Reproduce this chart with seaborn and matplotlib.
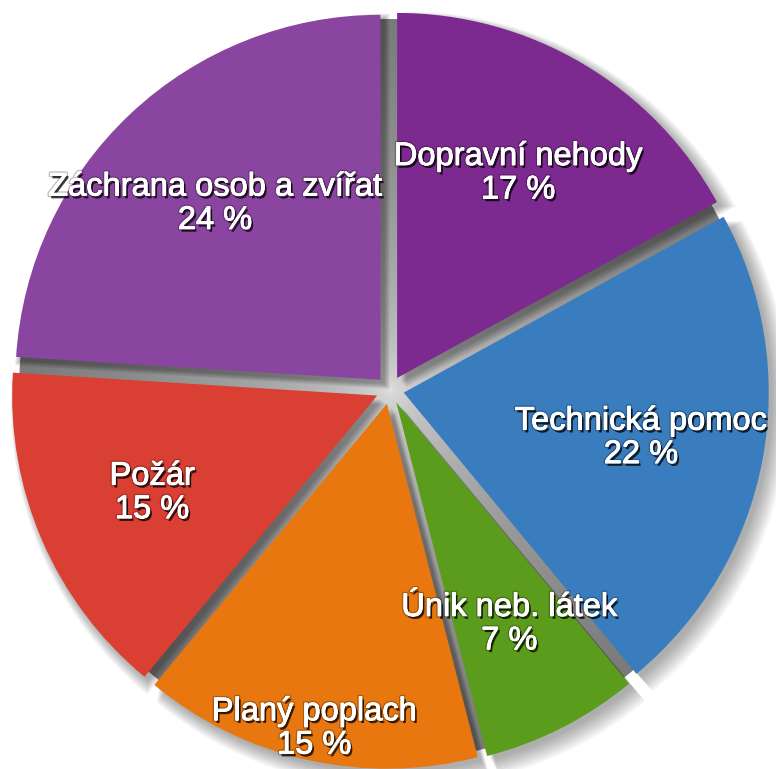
import numpy as np
import matplotlib
matplotlib.use("Agg")
import matplotlib.pyplot as plt
import matplotlib.patheffects as pe
from matplotlib.patches import Wedge, Circle
import seaborn as sns

# data
categories = ["Dopravní nehody", "Technická pomoc", "Únik neb. látek",
              "Planý poplach", "Požár", "Záchrana osob a zvířat"]
shares = [17, 22, 7, 15, 15, 24]
slice_colors = ["#7c2a8f", "#3a7dbf", "#5b9c1c", "#e8770f", "#da3f33", "#8a45a0"]
label_dist = [0.69, 0.70, 0.72, 0.95, 0.71, 0.70]

sns.set_theme(style="white")
plt.rcParams["font.family"] = ["Liberation Sans", "DejaVu Sans"]

W, H = 776, 769
fig = plt.figure(figsize=(W / 100, H / 100), dpi=100)
ax = fig.add_axes([0, 0, 1, 1])

cx, cy = 390, H - 390
R = 365
expl = 14  # pie explode is in data units here

wedges, _ = ax.pie(shares, colors=slice_colors, startangle=90, counterclock=False,
                   radius=R, center=(cx, cy), explode=[expl] * len(shares),
                   frame=True, wedgeprops=dict(linewidth=0, zorder=3))
ax.set_xlim(0, W)
ax.set_ylim(0, H)
ax.set_aspect("equal")
ax.axis("off")

# grey backdrop with light centre
yy, xx = np.mgrid[0:H, 0:W]
dist = np.hypot(xx - cx, (H - yy) - cy) / R
grey = np.clip(0.9 - 0.42 * np.sqrt(dist), 0.48, 0.92)
img = ax.imshow(np.dstack([grey, grey, grey]), extent=(0, W, 0, H), zorder=1)
img.set_clip_path(Circle((cx, cy), R + 6, transform=ax.transData))
ax.set_xlim(0, W)
ax.set_ylim(0, H)

# soft drop shadows
for w in wedges:
    wc = np.array(w.center)
    for k in range(10):
        sh = Wedge(wc + np.array([4 + k * 0.6, -4 - k * 0.6]), w.r + k * 1.2,
                   w.theta1, w.theta2, facecolor="black", alpha=0.035,
                   linewidth=0, zorder=2)
        ax.add_patch(sh)

fx = [pe.SimplePatchShadow(offset=(1.5, -2), shadow_rgbFace="black", alpha=0.75),
      pe.withStroke(linewidth=2.5, foreground=(0, 0, 0, 0.25)),
      pe.withStroke(linewidth=0.6, foreground="white")]

for w, name, val, d in zip(wedges, categories, shares, label_dist):
    mid = np.deg2rad((w.theta1 + w.theta2) / 2)
    tx = cx + d * R * np.cos(mid)
    ty = cy + d * R * np.sin(mid)
    ax.text(tx, ty, f"{name}\n{val} %", ha="center", va="center", color="white",
            fontsize=23.5, linespacing=1.1, zorder=5, path_effects=fx)

fig.savefig("out.png", dpi=100)
